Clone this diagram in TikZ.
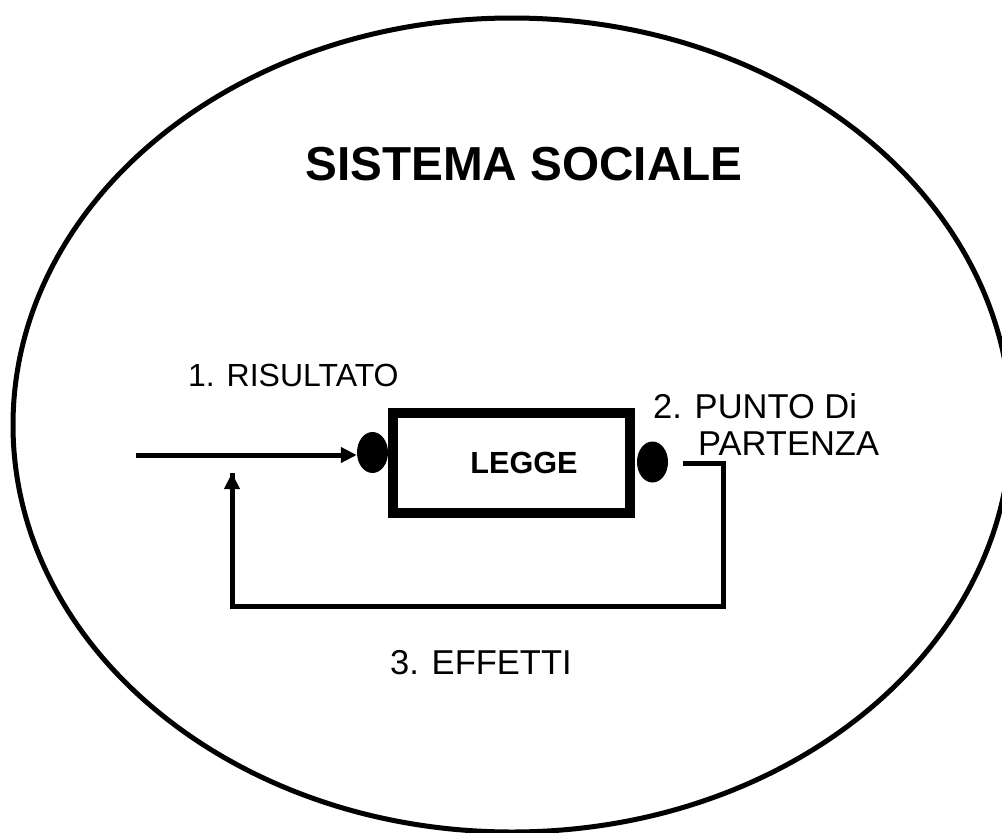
\documentclass[tikz,border=0pt]{standalone}
\usepackage{fontspec}
\setmainfont{Liberation Sans}
\usetikzlibrary{arrows.meta,shapes.geometric}
\begin{document}
\begin{tikzpicture}[x=1pt,y=-1pt,
  lbl/.style={inner sep=0pt,anchor=base west,font=\fontsize{34.5}{40}\selectfont},
  dot/.style={ellipse,fill=black,draw=none,minimum width=31pt,minimum height=41pt,inner sep=0pt},
  conn/.style={line width=5pt,line cap=butt},
  arr/.style={conn,-{Triangle[length=16pt,width=15pt]}}]
\useasboundingbox (0,0) rectangle (1002,833);
\begin{scope}
\clip (0,0) rectangle (1002,833);
\draw[line width=5pt] (512,425) ellipse [x radius=499, y radius=407];
\end{scope}
\node[inner sep=0pt,anchor=base west,font=\fontsize{47.7}{57}\bfseries\selectfont] (title) at (305,180) {SISTEMA SOCIALE};
\node[draw,line width=10pt,minimum width=237pt,minimum height=100pt,inner sep=0pt] (legge) at (511.5,463) {};
\node[inner sep=0pt,font=\fontsize{30.6}{37}\bfseries\selectfont] (leggetxt) at (524,463) {LEGGE};
\node[dot] (dl) at (372.5,452.5) {};
\node[dot] (dr) at (652.5,462) {};
\node[lbl,font=\fontsize{32}{38}\selectfont] (ris) at (188,386) {1. RISULTATO};
\node[lbl] (pun) at (653,418) {2. PUNTO Di};
\node[lbl] (par) at (698,455) {PARTENZA};
\node[lbl] (eff) at (390,674) {3. EFFETTI};
\coordinate (in) at (136,455);
\coordinate (out) at (683,463);
\coordinate (c1) at (723,463);
\coordinate (c2) at (723,606);
\coordinate (c3) at (232,606);
\coordinate (c4) at (232,473);
\draw[arr] (in) -- (dl.west |- in);
\draw[conn,line join=miter] (out) -- (c1) -- (c2) -- (c3) -- (c4);
\draw[arr] (c3) -- (c4);
\end{tikzpicture}
\end{document}
